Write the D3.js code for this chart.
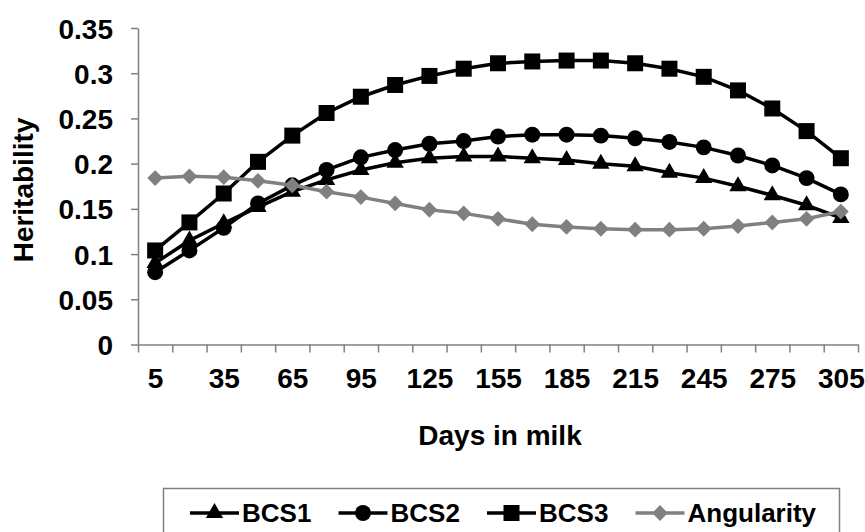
<!DOCTYPE html>
<html>
<head>
<meta charset="utf-8">
<style>
    body { margin: 0; background: #fff; }
    text { font-family: "Liberation Sans", Arial, sans-serif; font-weight: bold; fill: #000; }
</style>
</head>
<body>
<svg></svg>
<script src="https://d3js.org/d3.v7.min.js"></script>
<script>
    // data, one point every 15 days
    let days = [5, 20, 35, 50, 65, 80, 95, 110, 125, 140, 155, 170, 185, 200, 215, 230, 245, 260, 275, 290, 305];
    let bcs1 = [0.090, 0.115, 0.134, 0.152, 0.169, 0.182, 0.193, 0.201, 0.206, 0.208, 0.208, 0.206, 0.204, 0.200, 0.197, 0.190, 0.184, 0.175, 0.165, 0.154, 0.140];
    let bcs2 = [0.080, 0.104, 0.129, 0.156, 0.176, 0.193, 0.207, 0.215, 0.222, 0.225, 0.230, 0.232, 0.232, 0.231, 0.228, 0.224, 0.218, 0.209, 0.198, 0.184, 0.166];
    let bcs3 = [0.104, 0.135, 0.167, 0.202, 0.231, 0.256, 0.274, 0.287, 0.297, 0.305, 0.311, 0.313, 0.314, 0.314, 0.311, 0.305, 0.296, 0.281, 0.261, 0.236, 0.206];
    let angularity = [0.184, 0.186, 0.185, 0.181, 0.176, 0.169, 0.163, 0.156, 0.149, 0.145, 0.139, 0.133, 0.130, 0.128, 0.127, 0.127, 0.128, 0.131, 0.135, 0.139, 0.147];
    let xTickLabels = [5, 35, 65, 95, 125, 155, 185, 215, 245, 275, 305];
    let yTicks = [0, 0.05, 0.1, 0.15, 0.2, 0.25, 0.3, 0.35];

    let series = [
        {name: "BCS1", values: bcs1, color: "#000", symbol: "triangle"},
        {name: "BCS2", values: bcs2, color: "#000", symbol: "circle"},
        {name: "BCS3", values: bcs3, color: "#000", symbol: "square"},
        {name: "Angularity", values: angularity, color: "#808080", symbol: "diamond"}
    ];

    let width = 865,
        height = 532;

    let svg = d3.select("svg")
        .attr("width", width)
        .attr("height", height);

    // categories are 15 days wide, the ticks sit on their borders
    let x = d3.scaleLinear().domain([-2.5, 312.5]).range([138, 858]);
    let y = d3.scaleLinear().domain([0, 0.35]).range([344.5, 28]);
    let boundaries = d3.range(22).map(function (i) { return -2.5 + 15 * i; });

    let axisColor = "#808080";

    // y axis
    let yAxis = svg.append("g")
        .attr("transform", "translate(138,0)")
        .call(d3.axisLeft(y).tickValues(yTicks).tickSize(7).tickSizeOuter(0).tickPadding(18)
            .tickFormat(function (d) { return String(+d.toFixed(2)); }));
    yAxis.selectAll("text").style("font-size", "28px").attr("dy", "0.36em");

    // x axis: tick marks on the borders, labels under the categories
    let xAxis = svg.append("g")
        .attr("transform", "translate(0,344.5)")
        .call(d3.axisBottom(x).tickValues(boundaries).tickSize(8).tickSizeOuter(0).tickFormat(""));
    let xLabels = svg.append("g")
        .attr("transform", "translate(0,344.5)")
        .call(d3.axisBottom(x).tickValues(xTickLabels).tickSize(0).tickPadding(24));
    xLabels.select(".domain").remove();
    xLabels.selectAll("text").style("font-size", "28px").attr("dy", "0.69em");

    svg.selectAll(".domain, .tick line")
        .attr("stroke", axisColor)
        .attr("stroke-width", 1.5);

    // axis titles
    svg.append("text")
        .attr("x", 500)
        .attr("y", 445)
        .attr("text-anchor", "middle")
        .style("font-size", "28px")
        .text("Days in milk");

    svg.append("text")
        .attr("transform", "translate(33,190) rotate(-90)")
        .attr("text-anchor", "middle")
        .style("font-size", "28px")
        .text("Heritability");

    function markerPath(kind) {
        switch (kind) {
            case "triangle":
                return d3.symbol().type(d3.symbolTriangle).size(130)();
            case "circle":
                return d3.symbol().type(d3.symbolCircle).size(200)();
            case "square":
                return d3.symbol().type(d3.symbolSquare).size(256)();
            default:
                return d3.symbol().type(d3.symbolSquare).size(125)();
        }
    }

    let line = d3.line()
        .x(function (d, i) { return x(days[i]); })
        .y(function (d) { return y(d); });

    let plot = svg.append("g");

    series.forEach(function (s) {
        let g = plot.append("g");
        g.append("path")
            .attr("d", line(s.values))
            .attr("fill", "none")
            .attr("stroke", s.color)
            .attr("stroke-width", 3.5);
        g.selectAll("path.mark")
            .data(s.values)
            .enter().append("path")
            .attr("class", "mark")
            .attr("d", markerPath(s.symbol))
            .attr("fill", s.color)
            .attr("transform", function (d, i) {
                let t = "translate(" + x(days[i]) + "," + y(d) + ")";
                return s.symbol === "diamond" ? t + " rotate(45)" : t;
            });
    });

    // legend
    let legend = svg.append("g");
    legend.append("rect")
        .attr("x", 163.5)
        .attr("y", 488.5)
        .attr("width", 676)
        .attr("height", 55)
        .attr("fill", "#fff")
        .attr("stroke", axisColor)
        .attr("stroke-width", 1.5);

    let legendX = [190, 338.5, 487, 635.5];
    series.forEach(function (s, i) {
        let lg = legend.append("g").attr("transform", "translate(" + legendX[i] + ",513)");
        lg.append("line")
            .attr("x1", 0).attr("x2", 49)
            .attr("stroke", s.color)
            .attr("stroke-width", 3.5);
        lg.append("path")
            .attr("d", markerPath(s.symbol))
            .attr("fill", s.color)
            .attr("transform", "translate(24.5,0)" + (s.symbol === "diamond" ? " rotate(45)" : ""));
        lg.append("text")
            .attr("x", 52)
            .attr("dy", "0.35em")
            .style("font-size", "26px")
            .text(s.name);
    });
</script>
</body>
</html>
